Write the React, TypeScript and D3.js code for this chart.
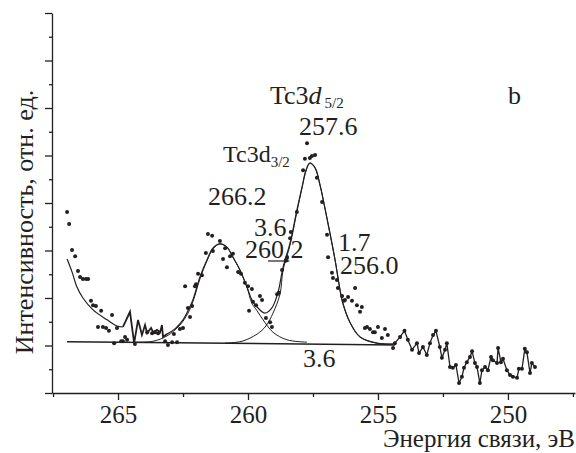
import * as React from 'react';
import * as d3 from 'd3';

// binding energy, eV (x) and intensity, arb. units (y)

// fitted envelope: left background tail
const tailE = [266.96, 266.77, 266.58, 266.35, 265.96, 265.42, 265.04, 264.81];
const tailI = [2.82, 2.55, 2.23, 2.0, 1.75, 1.54, 1.41, 1.39];

// fitted envelope: jagged section
const jagE = [264.81, 264.54, 264.38, 264.23, 264.08, 263.96, 263.88, 263.73, 263.65, 263.5, 263.38, 263.31, 263.27, 263.12];
const jagI = [1.39, 1.71, 1.05, 1.54, 1.22, 1.43, 1.26, 1.37, 1.28, 1.33, 1.28, 1.43, 1.18, 1.24];

// fitted envelope: both peaks
const envE = [263.12, 262.81, 262.5, 262.31, 262.12, 261.85, 261.58, 261.35, 261.08, 260.81, 260.58, 260.31, 260.04, 259.85, 259.65, 259.35, 259.08, 258.85, 258.65, 258.38, 258.12, 257.92, 257.77, 257.62, 257.42, 257.23, 257.04, 256.85, 256.65, 256.46, 256.35, 256.08, 255.69, 255.04, 254.42];
const envI = [1.24, 1.35, 1.54, 1.73, 1.96, 2.44, 2.8, 3.05, 3.14, 3.07, 2.86, 2.59, 2.23, 1.96, 1.81, 1.68, 1.79, 2.11, 2.65, 3.16, 3.85, 4.34, 4.69, 4.84, 4.74, 4.38, 3.89, 3.37, 2.8, 2.17, 1.89, 1.49, 1.18, 1.05, 1.03];

// component Tc3d3/2
const p1E = [264.35, 263.65, 263.12, 262.62, 262.31, 262.12, 261.85, 261.58, 261.35, 261.08, 260.81, 260.58, 260.31, 260.04, 259.85, 259.65, 259.42, 259.04, 258.5, 257.73];
const p1I = [1.07, 1.09, 1.2, 1.43, 1.68, 1.92, 2.4, 2.78, 3.03, 3.14, 3.07, 2.86, 2.59, 2.23, 1.89, 1.73, 1.54, 1.28, 1.12, 1.07];

// component Tc3d5/2
const p2E = [260.88, 260.23, 259.65, 259.31, 259.04, 258.77, 258.65, 258.38, 258.12, 257.92, 257.77, 257.62, 257.42, 257.23, 257.04, 256.85, 256.65, 256.46, 256.35, 256.08, 255.69, 255.04, 254.42];
const p2I = [1.05, 1.09, 1.24, 1.41, 1.68, 2.08, 2.59, 3.12, 3.81, 4.32, 4.67, 4.84, 4.74, 4.38, 3.89, 3.37, 2.8, 2.17, 1.89, 1.49, 1.18, 1.05, 1.03];

// linear background
const baseE = [266.96, 254.35];
const baseI = [1.08, 1.01];

// measured points joined by a line (low energy side)
const lineE = [254.35, 254.15, 253.98, 253.85, 253.69, 253.5, 253.42, 253.27, 253.12, 253.0, 252.88, 252.77, 252.62, 252.54, 252.42, 252.35, 252.23, 252.12, 252.0, 251.88, 251.77, 251.69, 251.58, 251.46, 251.38, 251.27, 251.19, 251.08, 251.0, 250.88, 250.77, 250.65, 250.58, 250.42, 250.38, 250.27, 250.19, 250.04, 249.92, 249.81, 249.65, 249.58, 249.46, 249.35, 249.27, 249.15, 249.08, 248.96];
const lineI = [1.05, 1.18, 1.31, 1.12, 0.91, 1.05, 0.84, 0.97, 0.8, 1.05, 1.22, 1.31, 0.97, 0.74, 0.91, 1.05, 0.55, 0.53, 0.59, 0.21, 0.34, 0.53, 0.65, 0.76, 0.88, 0.63, 0.55, 0.21, 0.48, 0.55, 0.48, 0.76, 0.69, 0.63, 0.95, 0.65, 0.72, 0.48, 0.38, 0.34, 0.32, 0.51, 0.51, 0.93, 0.86, 0.42, 0.63, 0.55];

// measured points (scatter)
const dotE = [
  266.96, 266.88, 266.77, 266.65, 266.54, 266.46, 266.35, 266.23, 266.15, 266.04, 265.96, 265.85, 265.65, 265.23,
  265.77, 265.58, 265.46, 265.35, 265.04, 265.15, 264.88, 264.81, 264.73, 264.65, 264.35, 263.88, 263.69, 263.58,
  263.46, 263.19, 263.08, 262.92, 262.73, 262.85, 262.62, 262.5, 262.31, 262.23, 262.15, 262.04, 261.92,
  262.42, 262.0, 261.77, 261.62, 261.54, 261.38, 261.35, 261.08, 260.88, 260.96, 260.81, 260.69, 260.58, 260.38,
  260.27, 260.12, 259.85, 259.54, 260.0, 259.96, 259.81, 259.69, 259.46, 259.31, 259.15, 259.08, 258.88, 258.81,
  258.69, 258.5, 258.38, 258.35, 258.12, 257.88, 257.81, 257.73, 257.62, 257.54, 257.42, 257.35, 257.15, 256.96,
  256.92, 256.77, 256.73, 256.58, 256.54, 256.38, 256.27, 256.15, 256.31, 256.0, 255.88, 255.81, 255.62, 255.69,
  255.5, 255.42, 255.31, 255.19, 255.12, 255.0, 254.85, 254.73, 254.62, 254.42,
];
const dotI = [
  3.81, 3.56, 3.01, 2.88, 2.57, 2.44, 2.4, 2.4, 2.4, 1.94, 1.85, 1.83, 1.73, 1.64,
  1.39, 1.39, 1.37, 1.31, 1.37, 1.05, 1.09, 1.09, 1.18, 1.12, 1.03, 1.28, 1.26, 1.28,
  1.26, 1.09, 1.01, 1.07, 1.07, 1.24, 1.35, 1.37, 1.79, 1.6, 1.83, 2.25, 2.51,
  2.25, 2.29, 2.48, 2.95, 3.35, 3.31, 2.99, 3.2, 3.05, 2.82, 2.65, 2.88, 2.93, 2.55,
  2.51, 2.32, 2.19, 2.04, 2.25, 1.73, 1.92, 1.85, 1.96, 1.58, 1.49, 1.39, 2.08, 2.11,
  2.59, 2.84, 3.26, 3.39, 3.81, 4.69, 4.93, 5.26, 4.95, 4.99, 5.01, 4.53, 4.02, 3.33,
  2.86, 2.53, 2.42, 2.38, 2.21, 2.04, 1.96, 2.02, 1.94, 1.94, 2.21, 1.85, 1.81, 1.71,
  1.37, 1.39, 1.35, 1.28, 1.28, 1.39, 1.16, 1.35, 1.22, 0.95,
];

const xMajor = [265, 260, 255, 250];
const xMinor = [267.5, 262.5, 257.5, 252.5, 247.5];
const yMajor = [0, 1, 2, 3, 4, 5, 6, 7, 8];
const yMinor = [0.5, 1.5, 2.5, 3.5, 4.5, 5.5, 6.5, 7.5];

const W = 576;
const H = 453;
const SERIF = 'Times New Roman';
const INK = '#231f20';

const Label = (props: { x?: number; y?: number; size: number; anchor?: string; transform?: string; children: React.ReactNode }) => (
  <text
    x={props.x}
    y={props.y}
    transform={props.transform}
    textAnchor={props.anchor}
    fill={INK}
    fontFamily={SERIF}
    fontSize={props.size}
    style={{ fontFamily: `"${SERIF}"`, fontSize: props.size }}
  >
    {props.children}
  </text>
);

const App = () => {
  const xAxisRef = React.useRef<SVGGElement>(null);
  const yAxisRef = React.useRef<SVGGElement>(null);

  const x = d3.scaleLinear().domain([267.54, 247.42]).range([52, 575]);
  const y = d3.scaleLinear().domain([0, 8]).range([393, 13]);

  React.useEffect(() => {
    const gx = d3.select(xAxisRef.current);
    gx.selectAll('*').remove();
    gx.append('g')
      .call(d3.axisBottom(x).tickValues(xMinor).tickSize(4).tickSizeOuter(0).tickFormat(() => ''))
      .call(g => g.select('.domain').remove());
    gx.append('g')
      .call(d3.axisBottom(x).tickValues(xMajor).tickSize(7).tickSizeOuter(0).tickFormat(d3.format('d')));
    gx.selectAll('path, line').attr('stroke', INK).attr('stroke-width', 1.3);
    gx.selectAll('g').attr('font-family', SERIF).attr('font-size', 25);
    gx.selectAll('text')
      .attr('y', 30)
      .attr('dy', 0)
      .attr('fill', INK)
      .style('font-family', `"${SERIF}"`)
      .style('font-size', '25px');

    const gy = d3.select(yAxisRef.current);
    gy.selectAll('*').remove();
    gy.append('g')
      .call(d3.axisLeft(y).tickValues(yMinor).tickSize(3).tickSizeOuter(0).tickFormat(() => ''))
      .call(g => g.select('.domain').remove());
    gy.append('g')
      .call(d3.axisLeft(y).tickValues(yMajor).tickSize(7).tickSizeOuter(0).tickFormat(() => ''));
    gy.selectAll('path, line').attr('stroke', INK).attr('stroke-width', 1.3);
  }, []);

  const smooth = d3
    .line<[number, number]>()
    .x(d => x(d[0]))
    .y(d => y(d[1]))
    .curve(d3.curveCatmullRom.alpha(0.5));
  const straight = d3
    .line<[number, number]>()
    .x(d => x(d[0]))
    .y(d => y(d[1]));

  const pts = (e: number[], v: number[]) => d3.zip(e, v) as [number, number][];
  const dots = pts(dotE, dotI).concat(pts(lineE, lineI));

  return (
    <svg width={W} height={H} style={{ position: 'absolute', left: 0, top: 0, background: '#fff' }}>
      <rect width={W} height={H} fill="#fff" />
      <g ref={xAxisRef} transform="translate(0,393)" />
      <g ref={yAxisRef} transform="translate(52,0)" />

      <g fill="none" stroke={INK} strokeWidth={1.2}>
        <path d={straight(pts(baseE, baseI)) || ''} strokeWidth={1.5} />
        <path d={smooth(pts(p1E, p1I)) || ''} strokeWidth={1} />
        <path d={smooth(pts(p2E, p2I)) || ''} strokeWidth={1} />
        <path d={smooth(pts(tailE, tailI)) || ''} />
        <path d={straight(pts(jagE, jagI)) || ''} strokeWidth={1.8} />
        <path d={smooth(pts(envE, envI)) || ''} />
        <path d={straight(pts(lineE, lineI)) || ''} strokeWidth={1.3} />
      </g>

      <g fill={INK}>
        {dots.map((d, i) => (
          <circle key={i} cx={x(d[0])} cy={y(d[1])} r={2} />
        ))}
      </g>

      <Label x={270} y={104} size={26}>
        Tc3<tspan fontStyle="italic">d</tspan>
        <tspan fontSize={15} style={{ fontSize: 15 }} dx={3} dy={4}>5/2</tspan>
      </Label>
      <Label x={299} y={135} size={26}>257.6</Label>
      <Label x={223} y={162} size={24}>
        Tc3d<tspan fontSize={15} style={{ fontSize: 15 }} dy={5}>3/2</tspan>
      </Label>
      <Label x={508} y={104} size={26}>b</Label>
      <Label x={208} y={205} size={26}>266.2</Label>
      <Label x={254} y={236} size={26}>3.6</Label>
      <Label x={245} y={258} size={26}>260.2</Label>
      <Label x={338} y={251} size={26}>1.7</Label>
      <Label x={340} y={274} size={26}>256.0</Label>
      <Label x={303} y={367} size={26}>3.6</Label>

      <g stroke={INK} strokeWidth={1.2}>
        <line x1={268} y1={261} x2={287} y2={261} />
        <path d="M290,261 L284,258.5 L284,263.5 Z" fill={INK} stroke="none" />
      </g>

      <Label x={575} y={447} size={25} anchor="end">Энергия связи, эВ</Label>
      <Label transform="translate(33,222) rotate(-90)" size={26} anchor="middle">
        Интенсивность, отн. ед.
      </Label>
    </svg>
  );
};

export default App;
